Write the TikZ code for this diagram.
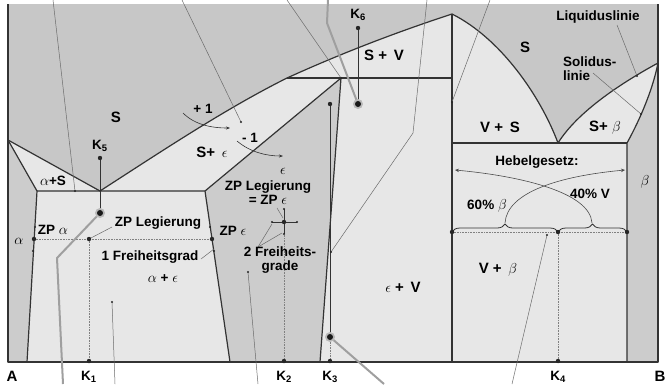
\documentclass[tikz,border=0pt]{standalone}
\usepackage{fontspec}
\setmainfont{Liberation Sans}
\usepackage{tikz}
\usetikzlibrary{arrows.meta,decorations.pathreplacing}
\definecolor{liqph}{gray}{0.78}
\definecolor{twoph}{gray}{0.905}
\definecolor{oneph}{gray}{0.80}
\definecolor{lead}{gray}{0.42}
\newcommand{\pdot}[1]{\fill[black!85] (#1) circle (2.2);}
\newcommand{\psml}[1]{\fill[black!85] (#1) circle (1.2);}
\newcommand{\pbig}[1]{\fill[gray!55] (#1) circle (5); \fill[black!90] (#1) circle (3);}

\begin{document}
\begin{tikzpicture}[x=1pt, y=-1pt, >=Stealth, line join=round,
  bnd/.style={line width=1.2pt, black!80},
  leader/.style={lead, line width=0.5pt},
  coolpath/.style={gray!75, line width=2pt},
  kline/.style={black!80, line width=0.8pt},
  dotline/.style={gray, densely dotted, line width=0.6pt},
  lbl/.style={font=\bfseries\fontsize{13.5}{14}\selectfont, inner sep=1pt},
  big/.style={font=\bfseries\fontsize{15}{16}\selectfont, inner sep=1pt}]
\useasboundingbox (0,0) rectangle (669,384);
% frame and phase points
\coordinate (TL) at (8,4);   \coordinate (TR) at (658,4);
\coordinate (BL) at (8,362); \coordinate (BR) at (658,362);
\coordinate (L0) at (8,140);
\coordinate (E1) at (100,191);
\coordinate (aE) at (37,191);
\coordinate (aB) at (27,362);
\coordinate (eE) at (205,191);
\coordinate (eB) at (230,362);
\coordinate (P1) at (287,78);
\coordinate (P2) at (341,78);
\coordinate (eR) at (320,362);
\coordinate (Vt) at (452,14);
\coordinate (Vp) at (452,78);
\coordinate (Vm) at (452,143);
\coordinate (Vb) at (452,362);
\coordinate (E2) at (558,143);
\coordinate (bE) at (627,143);
\coordinate (bB) at (627,362);
\coordinate (R0) at (658,63);

% areas
\fill[twoph] (TL) rectangle (BR);
\fill[liqph] (TL) -- (TR) -- (R0) .. controls (623,82) and (578,111) .. (E2)
  .. controls (540,95) and (500,38) .. (Vt) .. controls (397,32) and (342,53) .. (P1)
  .. controls (225,109) and (162,151) .. (E1) -- (L0) -- cycle;
\fill[oneph] (L0) -- (aE) -- (aB) -- (BL) -- cycle;
\fill[oneph] (P2) -- (eE) -- (eB) -- (eR) -- cycle;
\fill[oneph] (R0) .. controls (652,93) and (638,123) .. (bE) -- (bB) -- (BR) -- cycle;

% phase boundaries
\draw[bnd] (L0) -- (E1) .. controls (162,151) and (225,109) .. (P1)
  .. controls (342,53) and (397,32) .. (Vt) .. controls (500,38) and (540,95) .. (E2)
  .. controls (578,111) and (623,82) .. (R0) .. controls (652,93) and (638,123) .. (bE) -- (bB);
\draw[bnd] (L0) -- (aE) -- (aB);
\draw[bnd] (aE) -- (eE) -- (eB);
\draw[bnd] (eE) -- (P2) -- (eR);
\draw[bnd] (P1) -- (Vp);
\draw[bnd] (Vt) -- (Vb);
\draw[bnd] (Vm) -- (bE);
\draw[bnd] (TL) -- (BL) -- (BR) -- (TR);

% cooling paths
\coordinate (k5) at (100,158);  \coordinate (k5b) at (100,213);
\coordinate (k6) at (358,28);   \coordinate (k6b) at (358,104);
\coordinate (k3) at (330,104);  \coordinate (k3b) at (330,337);
\coordinate (K1) at (89,361);   \coordinate (K2) at (284,361);
\coordinate (K3) at (330,361);  \coordinate (K4) at (558,361);
\coordinate (z1) at (89,239);   \coordinate (za) at (34,239);  \coordinate (ze) at (212,239);
\coordinate (z2) at (284,222);
\coordinate (z4) at (558,232);  \coordinate (z4l) at (452,232); \coordinate (z4r) at (627,232);
\draw[kline] (k5) -- (k5b);
\draw[kline] (k6) -- (k6b);
\draw[kline] (k3) -- (k3b);
\draw[dotline] (k3b) -- (K3);
\draw[dotline] (za) -- (ze);
\draw[dotline] (z1) -- (K1);
\draw[dotline] (z2) -- (K2);
\draw[dotline] (z4l) -- (z4r);
\draw[dotline] (z4) -- (K4);

% grey pointer lines
\draw[coolpath] (328,0) -- (327,23) -- (k6b);
\draw[coolpath] (k5b) -- (57,258) -- (63,384);
\draw[coolpath] (k3b) -- (384,384);

% thin leaders
\draw[leader] (53,0) -- (75,191);
\draw[leader] (182,0) -- (241,122);
\draw[leader] (287,0) -- (P2);
\draw[leader] (427,0) -- (413,133) -- (331,252);
\draw[leader] (490,0) -- (452,102);
\draw[leader] (112,302) -- (115,384);
\draw[leader] (248,272) -- (258,384);
\draw[leader] (547,235) -- (512,384);
\draw[leader] (617,25) -- (637,76);
\draw[leader] (593,73) -- (641,114);
\draw[leader] (112,227) -- (z1);
\draw[leader] (201,259) -- (214,249);
\draw[leader] (277,208) -- (283,218);
\draw[leader] (258,247) -- (272,224);
\draw[leader] (258,247) -- (282,233);

% degree of freedom cross
\draw[kline] (272,222) -- (297,222);
\draw[kline] (284,209) -- (284,234);
\foreach \p in {{272,222},{297,222},{284,209},{284,234}}
  {\psml{\p}}

% +1 / -1
\draw[black!80, line width=0.6pt, -{Stealth[length=4pt]}] (183,113) .. controls (195,125) and (212,128) .. (230,128);
\draw[black!80, line width=0.6pt, -{Stealth[length=4pt]}] (237,141) .. controls (250,152) and (266,156) .. (283,156);

% lever rule
\coordinate (t1) at (505,223); \coordinate (t2) at (592,223);
\coordinate (h1) at (455,170); \coordinate (h2) at (625,170);
\draw[black!80, line width=0.8pt, decorate, decoration={brace, amplitude=8pt}] (z4l) -- (z4);
\draw[black!80, line width=0.8pt, decorate, decoration={brace, amplitude=8pt}] (z4) -- (z4r);
\draw[black!70, line width=0.6pt, -{Stealth[length=4pt, width=3.5pt]}] (t1) .. controls (507,192) and (560,176) .. (h2);
\draw[black!70, line width=0.6pt, -{Stealth[length=4pt, width=3.5pt]}] (t2) .. controls (590,192) and (520,176) .. (h1);

% points
\pdot{k5} \pdot{k6} \pdot{k3}
\pbig{k5b} \pbig{k6b} \pbig{k3b}
\pdot{K1} \pdot{K2} \pdot{K3} \pdot{K4}
\pdot{z1} \pdot{za} \pdot{ze} \pdot{z2}
\pdot{z4} \pdot{z4l} \pdot{z4r}
\foreach \p in {{75,191},{241,122},{P2},{331,252},{452,102},{112,302},{248,272},{547,235},{637,76},{641,114},{35,227},{33,251},{210,227},{214,251}}
  {\psml{\p}}

% labels
\node[big] (sL) at (116,117) {S};
\node[big] (sR) at (525,47) {S};
\node[big] (sv) at (384,55) {S + \,V};
\node[big] (vs) at (500,127) {V + \,S};
\node[big] (sb) at (605,128) {S+ $\beta$};
\node[big] (se) at (212,152) {S+ \,$\epsilon$};
\node[big] (ev) at (403,287) {$\epsilon$ + \,V};
\node[big] (vb) at (498,270) {V + \,$\beta$};
\node[lbl] (as) at (53,181) {$\alpha$+S};
\node[lbl] (ae) at (163,279) {$\alpha$ + $\epsilon$};
\node[lbl] (eps) at (283,171) {$\epsilon$};
\node[lbl] (zpL) at (158,223) {ZP Legierung};
\node[lbl, align=center] (zpE) at (268,193) {ZP Legierung\\= ZP $\epsilon$};
\node[lbl] (f1) at (150,257) {1 Freiheitsgrad};
\node[lbl, align=center] (f2) at (280,260) {2 Freiheits-\\grade};
\node[lbl] (zpa) at (53,230) {ZP $\alpha$};
\node[lbl] (al) at (19,241) {$\alpha$};
\node[lbl] (zpe) at (233,231) {ZP $\epsilon$};
\node[lbl] (liqL) at (598,17) {Liquiduslinie};
\node[lbl, align=left, anchor=west] (solL) at (562,69) {Solidus-\\linie};
\node[lbl] (heb) at (537,162) {Hebelgesetz:};
\node[lbl] (p60) at (487,206) {60\% $\beta$};
\node[lbl] (p40) at (590,194) {40\% V};
\node[lbl] (bet) at (645,182) {$\beta$};
\node[lbl] (pl1) at (203,109) {+ 1};
\node[lbl] (mi1) at (250,138) {- 1};
\node[lbl] (lk5) at (100,146) {K\textsubscript{5}};
\node[lbl] (lk6) at (358,15) {K\textsubscript{6}};
\node[big] (lA) at (12,376) {A};
\node[big] (lB) at (660,376) {B};
\node[lbl] (lk1) at (89,377) {K\textsubscript{1}};
\node[lbl] (lk2) at (284,377) {K\textsubscript{2}};
\node[lbl] (lk3) at (330,377) {K\textsubscript{3}};
\node[lbl] (lk4) at (558,377) {K\textsubscript{4}};
\end{tikzpicture}
\end{document}
